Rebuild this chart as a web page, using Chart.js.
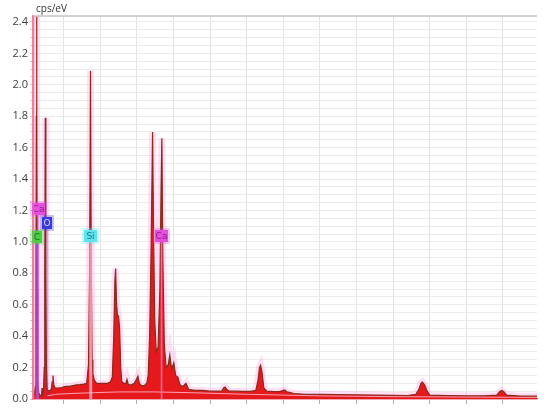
<!DOCTYPE html>
<html><head><meta charset="utf-8">
<script src="https://cdn.jsdelivr.net/npm/chart.js@4"></script>
<style>html,body{margin:0;padding:0;background:#fff}#wrap{width:550px;height:412px;position:relative}</style>
</head><body><div id="wrap"><canvas id="c"></canvas></div>
<script>
// Spectrum (keV vs cps/eV)
const energy = [0.164,0.20,0.23,0.245,0.255,0.262,0.27,0.28,0.295,0.32,0.36,0.40,0.41,0.425,0.45,0.47,0.485,0.50,0.515,0.53,0.55,0.60,0.66,0.69,0.71,0.73,0.77,0.85,0.95,1.05,1.15,1.25,1.35,1.45,1.55,1.63,1.68,1.71,1.735,1.755,1.78,1.80,1.84,1.90,2.0,2.1,2.2,2.28,2.33,2.37,2.40,2.42,2.445,2.47,2.50,2.53,2.56,2.59,2.65,2.70,2.73,2.77,2.85,2.93,3.00,3.03,3.07,3.13,3.20,3.27,3.31,3.35,3.39,3.43,3.46,3.49,3.53,3.58,3.63,3.66,3.684,3.71,3.75,3.80,3.86,3.90,3.95,4.01,4.06,4.12,4.18,4.26,4.34,4.42,4.6,4.8,5.0,5.2,5.32,5.37,5.41,5.46,5.52,5.7,5.9,6.1,6.25,6.31,6.35,6.38,6.42,6.47,6.55,6.7,6.9,7.0,7.04,7.1,7.3,7.6,8.0,8.5,9.0,9.5,10.0,10.4,10.62,10.7,10.76,10.80,10.86,10.93,11.0,11.5,12.0,12.5,12.83,12.9,12.96,13.02,13.1,13.5,13.93];
const cps = [0.03,0.03,0.08,0.6,1.8,2.7,1.9,0.7,0.12,0.04,0.02,0.03,0.07,0.03,0.05,0.2,0.8,1.79,0.8,0.2,0.06,0.05,0.06,0.11,0.15,0.09,0.07,0.07,0.072,0.08,0.08,0.085,0.09,0.092,0.095,0.1,0.22,0.8,2.09,0.85,0.25,0.16,0.12,0.1,0.1,0.1,0.1,0.11,0.14,0.4,0.75,0.83,0.62,0.53,0.53,0.45,0.2,0.11,0.1,0.1,0.125,0.09,0.09,0.1,0.13,0.145,0.1,0.085,0.085,0.1,0.15,0.4,0.95,1.70,1.0,0.5,0.3,0.33,0.7,1.3,1.66,0.9,0.35,0.2,0.22,0.28,0.19,0.23,0.15,0.14,0.09,0.08,0.1,0.06,0.055,0.055,0.05,0.05,0.05,0.07,0.076,0.06,0.05,0.05,0.048,0.048,0.055,0.12,0.2,0.215,0.17,0.07,0.05,0.048,0.047,0.055,0.058,0.045,0.035,0.03,0.03,0.028,0.027,0.025,0.023,0.022,0.03,0.06,0.1,0.108,0.09,0.05,0.025,0.022,0.02,0.02,0.025,0.045,0.055,0.048,0.025,0.018,0.018];
// Background fit
const bgEnergy = [0.55,0.8,1.2,1.8,2.5,3.5,4.5,6,8,10,13.93];
const bgCps = [0.02,0.03,0.035,0.04,0.045,0.045,0.04,0.03,0.02,0.015,0.01];
// Element markers
const elNames = ['Ca','O','C','Si','Ca'];
const elEnergy = [0.31,0.56,0.275,1.74,3.675];
const elLabelLevel = [1.21,1.12,1.03,1.035,1.035];
const elColors = ['#e64ee0','#3838e6','#3fd43f','#5ee4ec','#e64ee0'];
const elTextColors = ['#8a1f86','#d8d8ff','#1d6a1d','#1f7a86','#8a1f86'];
const elLineColors = ['rgba(220,80,230,0.55)','rgba(60,60,200,0.3)','rgba(170,80,220,0.75)','rgba(255,200,220,0.7)','rgba(255,110,180,0.9)'];
// Axes
const xTicks = [1,2,3,4,5,6,7,8,9,10,11,12,13];
const yMajor = [0,0.2,0.4,0.6,0.8,1.0,1.2,1.4,1.6,1.8,2.0,2.2,2.4];
const yMinorPerMajor = 4;
const yLabel = 'cps/eV';

const spectrum = energy.map((e,i)=>({x:e,y:cps[i]}));
const background = bgEnergy.map((e,i)=>({x:e,y:bgCps[i]}));

const markerPlugin = {
  id:'markers',
  afterDatasetsDraw(chart){
    const {ctx, scales:{x,y}, chartArea:a} = chart;
    ctx.save();
    ctx.beginPath(); ctx.rect(a.left, a.top, a.right-a.left, a.bottom-a.top); ctx.clip();
    elNames.forEach((n,i)=>{
      const px = x.getPixelForValue(elEnergy[i]);
      const py = y.getPixelForValue(elLabelLevel[i]);
      ctx.strokeStyle = elLineColors[i];
      ctx.lineWidth = (i===2||i===3)?3:1.6;
      ctx.beginPath(); ctx.moveTo(px, py+5); ctx.lineTo(px, a.bottom); ctx.stroke();
    });
    ctx.restore();
    ctx.save();
    elNames.forEach((n,i)=>{
      const px = x.getPixelForValue(elEnergy[i]);
      const py = y.getPixelForValue(elLabelLevel[i]);
      const w = n.length>1?13:10, h=12;
      const bx = Math.round(px-w/2), by = Math.round(py-h/2);
      ctx.globalAlpha = 0.3;
      ctx.fillStyle = elColors[i];
      ctx.fillRect(bx-2, by-2, w+4, h+4);
      ctx.globalAlpha = 1;
      ctx.fillRect(bx, by, w, h);
      ctx.fillStyle = elTextColors[i];
      ctx.font = '9px "DejaVu Sans"';
      ctx.textAlign='center'; ctx.textBaseline='middle';
      ctx.fillText(n, bx+w/2, by+h/2+0.5);
    });
    // top border
    ctx.strokeStyle='#c4c4c4'; ctx.lineWidth=1.5;
    ctx.beginPath(); ctx.moveTo(a.left, a.top); ctx.lineTo(a.right, a.top); ctx.stroke();
    // y-axis line (pink)
    ctx.strokeStyle='rgba(240,120,150,0.9)'; ctx.lineWidth=1.5;
    ctx.beginPath(); ctx.moveTo(a.left+0.5, a.top); ctx.lineTo(a.left+0.5, a.bottom); ctx.stroke();
    // unit label
    ctx.fillStyle='#333'; ctx.font='10px "Open Sans"'; ctx.textAlign='left'; ctx.textBaseline='middle';
    ctx.fillText(yLabel, a.left+3, 9);
    ctx.restore();
  }
};

new Chart(document.getElementById('c'), {
  type:'line',
  data:{datasets:[
    {data:background, borderColor:'rgba(255,175,195,0.9)', borderWidth:1, pointRadius:0, fill:false, order:1},
    {data:spectrum, borderColor:'#8a2a1a', backgroundColor:'#e5191c', borderWidth:1.2, pointRadius:0, fill:'origin', order:2},
    {data:spectrum, borderColor:'rgba(255,175,230,0.4)', borderWidth:7, pointRadius:0, fill:false, order:3}
  ]},
  options:{
    responsive:true, maintainAspectRatio:false, animation:false,
    layout:{padding:{top:16,right:13,left:0,bottom:0}},
    plugins:{legend:{display:false}, tooltip:{enabled:false}},
    scales:{
      x:{type:'linear', min:0.164, max:13.93,
        afterBuildTicks:s=>{s.ticks = xTicks.map(v=>({value:v}));},
        afterFit:s=>{s.height=13;},
        ticks:{display:false},
        grid:{color:'#e3e3e3', tickLength:5, tickColor:'#b0b0b0', lineWidth:1},
        border:{color:'rgba(240,80,100,0.9)', width:1.5}
      },
      y:{type:'linear', min:0, max:2.438,
        afterBuildTicks:s=>{
          const t=[];
          yMajor.forEach((m,i)=>{
            t.push({value:m});
            if(i<yMajor.length-1){
              const step=(yMajor[i+1]-m)/yMinorPerMajor;
              for(let k=1;k<yMinorPerMajor;k++) t.push({value:m+k*step});
            }
          });
          s.ticks=t;
        },
        afterFit:s=>{s.width=33;},
        ticks:{autoSkip:false, padding:2, color:'#404040', font:{family:'"Open Sans"', size:11},
          callback:v=>{const m=yMajor.find(t=>Math.abs(t-v)<1e-6); return m===undefined?'':m.toFixed(1);}},
        grid:{color:'#ececec', tickLength:3, tickColor:'#c8c8c8', lineWidth:1},
        border:{color:'rgba(240,120,150,0.9)', width:1.5}
      }
    }
  },
  plugins:[markerPlugin]
});
</script></body></html>
